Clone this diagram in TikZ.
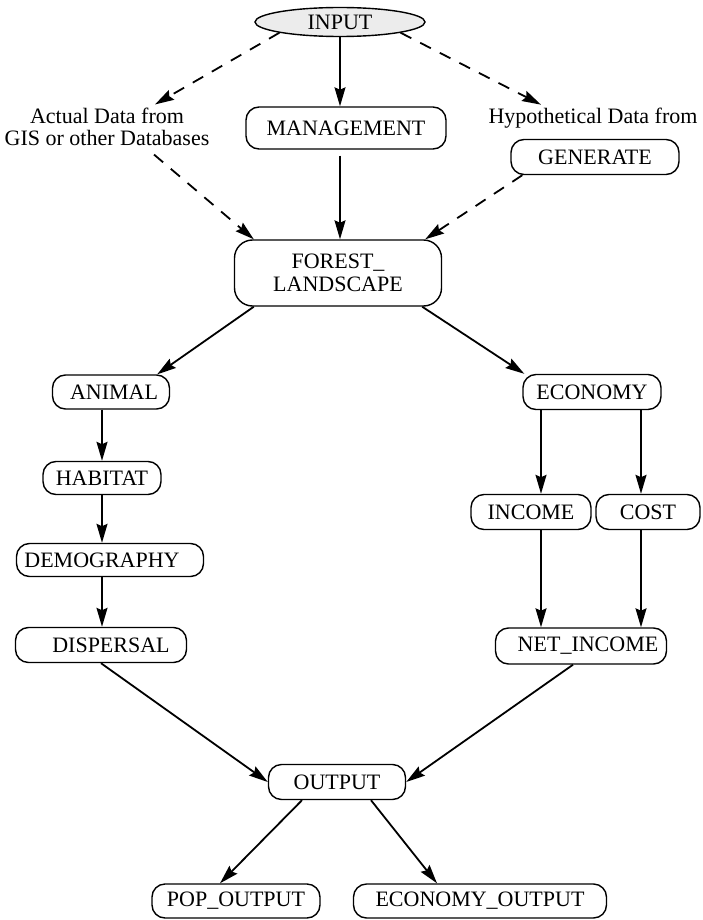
\documentclass[tikz,border=0pt]{standalone}
\usepackage{fontspec}
\setmainfont{Liberation Serif}
\usetikzlibrary{arrows.meta,shapes.geometric,calc}
\begin{document}
\begin{tikzpicture}[x=1pt,y=-1pt,
  box/.style={draw,line width=1.4pt,rounded corners=13pt,inner sep=0pt,align=center,font=\fontsize{22}{23}\selectfont},
  lbl/.style={inner sep=0pt,align=center,font=\fontsize{22}{22}\selectfont},
  arr/.style={line width=1.8pt,-{Stealth[length=19pt,width=11pt,inset=2.5pt]}},
  darr/.style={arr,dash pattern=on 12pt off 10pt}]
\useasboundingbox (0,0) rectangle (702,920);

\node[draw,ellipse,fill=gray!15,line width=1.4pt,minimum width=170pt,minimum height=29pt,inner sep=0pt,font=\fontsize{22}{23}\selectfont] (input) at (340,22) {INPUT};
\node[box,minimum width=200pt,minimum height=42pt] (mgmt) at (346,128) {MANAGEMENT};
\node[lbl] (actual) at (107,126.5) {Actual Data from\\GIS or other Databases};
\node[lbl] (hypo) at (593,118) {Hypothetical Data from};
\node[box,minimum width=168pt,minimum height=35pt] (gen) at (595,157) {GENERATE};
\node[box,minimum width=207pt,minimum height=66pt,rounded corners=18pt] (forest) at (338,273) {FOREST\_\\LANDSCAPE};
\node[box,minimum width=117pt,minimum height=34pt] (animal) at (111,392) {\hspace*{6pt}ANIMAL};
\node[box,minimum width=118pt,minimum height=33pt] (habitat) at (102,478) {HABITAT};
\node[box,minimum width=187pt,minimum height=33pt] (demo) at (110,560) {DEMOGRAPHY\hspace*{16pt}};
\node[box,minimum width=171pt,minimum height=35pt] (disp) at (101,645) {\hspace*{20pt}DISPERSAL};
\node[box,minimum width=138pt,minimum height=35pt] (econ) at (592,392) {ECONOMY};
\node[box,minimum width=120pt,minimum height=35pt] (income) at (531,512) {INCOME};
\node[box,minimum width=104pt,minimum height=35pt] (cost) at (648,512) {COST};
\node[box,minimum width=171pt,minimum height=36pt] (net) at (581,646) {\hspace*{14pt}NET\_INCOME};
\node[box,minimum width=137pt,minimum height=35pt] (output) at (337,782) {OUTPUT};
\node[box,minimum width=168pt,minimum height=34pt] (pop) at (236,901) {POP\_OUTPUT};
\node[box,minimum width=253pt,minimum height=34pt] (econout) at (480,901) {ECONOMY\_OUTPUT};

\coordinate (eL) at ([xshift=-51pt]econ.south);
\coordinate (eR) at ([xshift=49pt]econ.south);

\draw[arr] (input.south) -- (input.south |- mgmt.north);
\draw[arr] ($(input.south |- mgmt.south)+(0,6)$) -- (input.south |- forest.north);
\draw[darr] (input.south west) -- ([xshift=48pt,yshift=3pt]actual.north);
\draw[darr] ([xshift=47pt,yshift=-9pt]actual.south) -- ([xshift=20pt]forest.north west);
\draw[darr] (input.south east) -- ([xshift=-52pt,yshift=3pt]hypo.north);
\draw[darr] ([xshift=12pt]gen.south west) -- ([xshift=-17pt]forest.north east);

\draw[arr] ([xshift=20pt]forest.south west) -- ([xshift=-13pt]animal.north east);
\draw[arr] ([xshift=-20pt]forest.south east) -- ([xshift=2pt]econ.north west);
\draw[arr] (habitat.north |- animal.south) -- (habitat.north);
\draw[arr] (habitat.south) -- (habitat.south |- demo.north);
\draw[arr] (habitat.south |- demo.south) -- (habitat.south |- disp.north);
\draw[arr] (eL) -- (eL |- income.north);
\draw[arr] (eL |- income.south) -- (eL |- net.north);
\draw[arr] (eR) -- (eR |- cost.north);
\draw[arr] (eR |- cost.south) -- (eR |- net.north);
\draw[arr] (disp.south) -- (output.west);
\draw[arr] ([xshift=-8pt]net.south) -- (output.east);
\draw[arr] ([xshift=-35pt]output.south) -- ([xshift=-16pt]pop.north);
\draw[arr] ([xshift=34pt]output.south) -- ([xshift=-43pt]econout.north);
\end{tikzpicture}
\end{document}
